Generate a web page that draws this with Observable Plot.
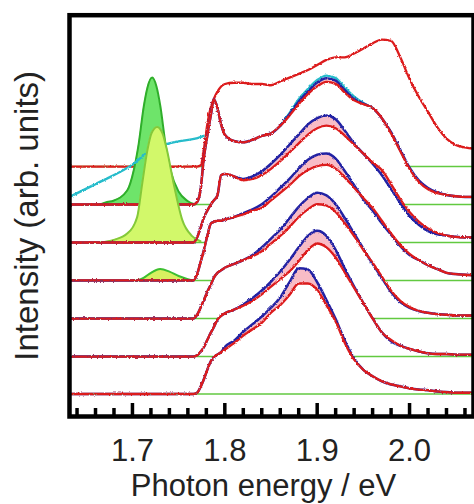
<!DOCTYPE html>
<html><head><meta charset="utf-8">
<script src="https://cdn.jsdelivr.net/npm/d3@7"></script>
<script src="https://cdn.jsdelivr.net/npm/@observablehq/plot@0.6"></script>
<style>html,body{margin:0;padding:0;background:#fff}svg{display:block}</style>
</head><body><div id="chart"></div>
<script>
// ---- data (photon energy in eV, normalised intensity) ----
const energies = [1.632, 1.766, 1.770, 1.774, 1.777, 1.781, 1.785, 1.788, 1.792, 1.796, 1.80, 1.81, 1.82, 1.83, 1.84, 1.85, 1.86, 1.87, 1.88, 1.89, 1.90, 1.91, 1.92, 1.93, 1.94, 1.95, 1.96, 1.97, 1.98, 1.99, 2.00, 2.01, 2.02, 2.03, 2.04, 2.05, 2.06, 2.07];
const offsets = [1.791, 1.492, 1.193, 0.894, 0.594, 0.295, 0];

const red1 = [0, 0, 0, 0.01, 0.12, 0.33, 0.47, 0.53, 0.59, 0.63, 0.65, 0.66, 0.66, 0.65, 0.65, 0.64, 0.67, 0.70, 0.73, 0.76, 0.80, 0.84, 0.86, 0.86, 0.89, 0.93, 0.97, 1.0, 0.99, 0.86, 0.69, 0.55, 0.43, 0.31, 0.22, 0.17, 0.15, 0.14];
const red2 = [0, 0, 0.02, 0.13, 0.35, 0.54, 0.71, 0.83, 0.76, 0.63, 0.55, 0.50, 0.49, 0.51, 0.54, 0.56, 0.62, 0.70, 0.79, 0.87, 0.93, 0.965, 0.95, 0.88, 0.82, 0.79, 0.76, 0.68, 0.56, 0.42, 0.28, 0.18, 0.12, 0.09, 0.075, 0.065, 0.06, 0.06];
const blue2 = [0, 0, 0.02, 0.13, 0.35, 0.54, 0.71, 0.83, 0.76, 0.63, 0.55, 0.50, 0.49, 0.51, 0.54, 0.56, 0.62, 0.71, 0.81, 0.89, 0.96, 0.995, 0.975, 0.90, 0.83, 0.795, 0.76, 0.68, 0.57, 0.43, 0.29, 0.19, 0.13, 0.095, 0.075, 0.065, 0.06, 0.06];
const red3 = [0, 0, 0.04, 0.12, 0.19, 0.25, 0.30, 0.33, 0.37, 0.53, 0.54, 0.52, 0.49, 0.50, 0.53, 0.58, 0.64, 0.71, 0.78, 0.85, 0.90, 0.92, 0.90, 0.84, 0.77, 0.70, 0.63, 0.57, 0.46, 0.34, 0.24, 0.165, 0.11, 0.075, 0.055, 0.045, 0.04, 0.04];
const blue3 = [0, 0, 0.04, 0.12, 0.19, 0.25, 0.30, 0.33, 0.37, 0.53, 0.54, 0.52, 0.50, 0.52, 0.56, 0.62, 0.69, 0.77, 0.85, 0.93, 0.98, 1.0, 0.97, 0.88, 0.78, 0.70, 0.62, 0.53, 0.42, 0.31, 0.21, 0.14, 0.09, 0.065, 0.055, 0.045, 0.04, 0.04];
const red4 = [0, 0, 0.05, 0.15, 0.23, 0.35, 0.45, 0.46, 0.47, 0.47, 0.48, 0.50, 0.52, 0.55, 0.57, 0.63, 0.69, 0.75, 0.82, 0.87, 0.90, 0.91, 0.88, 0.81, 0.73, 0.65, 0.57, 0.47, 0.37, 0.28, 0.21, 0.16, 0.12, 0.09, 0.06, 0.05, 0.045, 0.04];
const blue4 = [0, 0, 0.05, 0.15, 0.23, 0.35, 0.45, 0.46, 0.47, 0.47, 0.48, 0.50, 0.53, 0.56, 0.60, 0.66, 0.73, 0.80, 0.88, 0.95, 0.99, 1.0, 0.96, 0.86, 0.75, 0.64, 0.55, 0.45, 0.36, 0.27, 0.20, 0.16, 0.12, 0.09, 0.06, 0.05, 0.045, 0.04];
const red5 = [0, 0, 0.03, 0.09, 0.14, 0.21, 0.27, 0.32, 0.36, 0.38, 0.40, 0.43, 0.46, 0.49, 0.53, 0.59, 0.65, 0.72, 0.80, 0.86, 0.90, 0.89, 0.84, 0.75, 0.65, 0.54, 0.44, 0.33, 0.22, 0.14, 0.09, 0.06, 0.045, 0.035, 0.03, 0.025, 0.024, 0.024];
const blue5 = [0, 0, 0.03, 0.09, 0.14, 0.21, 0.27, 0.32, 0.36, 0.38, 0.40, 0.43, 0.46, 0.50, 0.56, 0.63, 0.70, 0.79, 0.88, 0.95, 0.99, 0.97, 0.90, 0.79, 0.67, 0.55, 0.43, 0.32, 0.21, 0.13, 0.085, 0.06, 0.045, 0.035, 0.03, 0.025, 0.024, 0.024];
const red6 = [0, 0, 0.01, 0.04, 0.07, 0.13, 0.19, 0.23, 0.29, 0.32, 0.34, 0.37, 0.40, 0.44, 0.49, 0.55, 0.61, 0.67, 0.75, 0.84, 0.89, 0.86, 0.78, 0.66, 0.54, 0.42, 0.30, 0.19, 0.13, 0.085, 0.06, 0.04, 0.025, 0.02, 0.02, 0.015, 0.015, 0.015];
const blue6 = [0, 0, 0.01, 0.04, 0.07, 0.13, 0.19, 0.23, 0.29, 0.32, 0.34, 0.37, 0.41, 0.46, 0.52, 0.59, 0.67, 0.76, 0.86, 0.95, 0.99, 0.95, 0.84, 0.69, 0.55, 0.42, 0.30, 0.19, 0.12, 0.085, 0.06, 0.04, 0.025, 0.02, 0.02, 0.015, 0.015, 0.015];
const red7 = [0, 0, 0.01, 0.06, 0.11, 0.19, 0.26, 0.29, 0.31, 0.33, 0.35, 0.40, 0.46, 0.51, 0.56, 0.64, 0.70, 0.78, 0.87, 0.87, 0.82, 0.70, 0.57, 0.40, 0.27, 0.19, 0.14, 0.10, 0.075, 0.06, 0.045, 0.035, 0.03, 0.02, 0.015, 0.01, 0.01, 0.01];
const blue7 = [0, 0, 0.01, 0.06, 0.11, 0.19, 0.26, 0.29, 0.31, 0.33, 0.37, 0.42, 0.49, 0.55, 0.61, 0.68, 0.76, 0.88, 0.99, 0.98, 0.88, 0.74, 0.59, 0.42, 0.28, 0.19, 0.14, 0.10, 0.075, 0.06, 0.045, 0.035, 0.03, 0.02, 0.015, 0.01, 0.01, 0.01];

const cyanLeftE = [1.6318, 1.6653, 1.7011, 1.7195, 1.7444, 1.7736, 1.777];
const cyanLeftH = [0.06, 0.18, 0.32, 0.43, 0.49, 0.53, 0.54];
const cyanPeakE = [1.86, 1.87, 1.88, 1.89, 1.90, 1.91, 1.92, 1.93, 1.94, 1.95, 1.96];
const cyanPeakH = [0.62, 0.72, 0.83, 0.91, 0.98, 1.015, 0.995, 0.92, 0.85, 0.80, 0.76];

const peakAE = [1.665, 1.6726, 1.6794, 1.6943, 1.7014, 1.7068, 1.7122, 1.7162, 1.7213, 1.726, 1.7303, 1.7357, 1.7412, 1.7501, 1.7592, 1.768];
const peakAH = [0, 0.02, 0.03, 0.11, 0.27, 0.48, 0.77, 0.92, 1.0, 0.93, 0.77, 0.48, 0.27, 0.10, 0.03, 0];
const peakBE = [1.665, 1.6797, 1.6943, 1.7051, 1.7105, 1.716, 1.7206, 1.7267, 1.7325, 1.7376, 1.7447, 1.7538, 1.7646, 1.7737];
const peakBH = [0, 0.02, 0.07, 0.20, 0.46, 0.72, 0.86, 0.91, 0.86, 0.72, 0.46, 0.18, 0.05, 0.01];
const peakCE = [1.705, 1.712, 1.72, 1.73, 1.74, 1.75, 1.76, 1.765];
const peakCH = [0, 0.02, 0.06, 0.09, 0.07, 0.035, 0.01, 0];

const majorTicks = [1.7, 1.8, 1.9, 2.0];
const minorTicks = [1.64, 1.66, 1.68, 1.72, 1.74, 1.76, 1.78, 1.82, 1.84, 1.86, 1.88, 1.92, 1.94, 1.96, 1.98, 2.02, 2.04, 2.06];
const xLabel = "Photon energy / eV";
const yLabel = "Intensity (arb. units)";

// ---- build tables ----
const reds = [red1, red2, red3, red4, red5, red6, red7];
const blues = [null, blue2, blue3, blue4, blue5, blue6, blue7];
const traces = reds.map((r, i) => {
  const off = offsets[i];
  const b = blues[i] || r;
  return energies.map((e, j) => ({e, r: r[j] + off, b: b[j] + off, top: Math.max(r[j], b[j]) + off, base: off}));
});
const peakRows = (E, H, off) => E.map((e, j) => ({e, h: H[j] + off, base: off}));
const peaks = {1: {rows: peakRows(peakAE, peakAH, offsets[1]), fill: "#6ee46a", stroke: "#2fae2a"},
               2: {rows: peakRows(peakBE, peakBH, offsets[2]), fill: "#d2f86a", stroke: "#84c93a"},
               3: {rows: peakRows(peakCE, peakCH, offsets[3]), fill: "#d8f060", stroke: "#3cbf32"}};
const cyanL = peakRows(cyanLeftE, cyanLeftH, offsets[1]);
const cyanP = peakRows(cyanPeakE, cyanPeakH, offsets[1]);

const RED = "#dc1a1c", BLUE = "#2424a4", PINK = "#f8bcc6", GREEN = "#62c940", CYAN = "#26bccb";
const curve = "monotone-x";
const marks = [];
traces.forEach((rows, i) => {
  marks.push(Plot.areaY(rows, {x: "e", y1: "base", y2: "top", fill: "white", curve, clip: true}));
  if (blues[i]) marks.push(Plot.areaY(rows, {x: "e", y1: "r", y2: "b", fill: PINK, curve, clip: true}));
  marks.push(Plot.ruleY([offsets[i]], {stroke: GREEN, strokeWidth: 1.6}));
  if (peaks[i]) {
    marks.push(Plot.areaY(peaks[i].rows, {x: "e", y1: "base", y2: "h", fill: peaks[i].fill, curve, clip: true}));
    marks.push(Plot.line(peaks[i].rows, {x: "e", y: "h", stroke: peaks[i].stroke, strokeWidth: 2, curve, clip: true}));
  }
  if (i === 1) {
    marks.push(Plot.line(cyanL, {x: "e", y: "h", stroke: CYAN, strokeWidth: 2.4, curve, clip: true}));
    marks.push(Plot.line(cyanP, {x: "e", y: "h", stroke: CYAN, strokeWidth: 2.4, curve, clip: true}));
  }
  if (blues[i]) marks.push(Plot.line(rows, {x: "e", y: "b", stroke: BLUE, strokeWidth: 2.5, curve, clip: true}));
  marks.push(Plot.line(rows, {x: "e", y: "r", stroke: RED, strokeWidth: 2.3, curve, clip: true}));
});

marks.push(Plot.axisX({ticks: minorTicks, tickSize: -8, strokeWidth: 3.5, text: null, label: null, stroke: "black"}));
marks.push(Plot.axisX({ticks: majorTicks, tickSize: -13, strokeWidth: 3.5, text: null, label: null, stroke: "black"}));
marks.push(Plot.axisX({ticks: majorTicks, tickSize: 0, tickPadding: 22, fontSize: 31, tickFormat: d => d.toFixed(1), label: null, fill: "#222"}));
marks.push(Plot.frame({stroke: "black", strokeWidth: 4.5}));
marks.push(Plot.text([xLabel], {text: d => d, frameAnchor: "bottom", dx: -8, dy: 70, lineAnchor: "middle", textAnchor: "middle", fontSize: 31, fill: "#222"}));
marks.push(Plot.text([yLabel], {text: d => d, frameAnchor: "left", dx: -42, rotate: -90, lineAnchor: "middle", textAnchor: "middle", fontSize: 33, fill: "#222"}));

const chart = Plot.plot({
  width: 474, height: 504,
  marginLeft: 69, marginRight: 1, marginTop: 14.7, marginBottom: 88,
  x: {domain: [1.63184, 2.06924], label: null, axis: null},
  y: {domain: [-0.1772, 2.9827], axis: null},
  style: {fontFamily: "'Liberation Sans', Arial, sans-serif", background: "white", overflow: "visible"},
  marks
});
document.getElementById("chart").appendChild(chart);

// measurement-noise look for the spectra (visual SVG filter only, data untouched)
const ns = "http://www.w3.org/2000/svg";
const defs = document.createElementNS(ns, "defs");
defs.innerHTML = '<filter id="rough" filterUnits="userSpaceOnUse" x="0" y="0" width="474" height="504"><feTurbulence type="fractalNoise" baseFrequency="0.55" numOctaves="2" seed="4" result="n"/><feDisplacementMap in="SourceGraphic" in2="n" scale="2.6" xChannelSelector="R" yChannelSelector="G"/></filter>';
chart.insertBefore(defs, chart.firstChild);
const noisy = new Set([RED, BLUE, CYAN].map(c => d3.rgb(c).toString()));
chart.querySelectorAll('g[aria-label="line"]').forEach(g => {
  const p = g.querySelector("path");
  if (!p) return;
  const s = d3.rgb(getComputedStyle(p).stroke).toString();
  if (noisy.has(s)) g.setAttribute("filter", "url(#rough)");
});
</script>
</body></html>
